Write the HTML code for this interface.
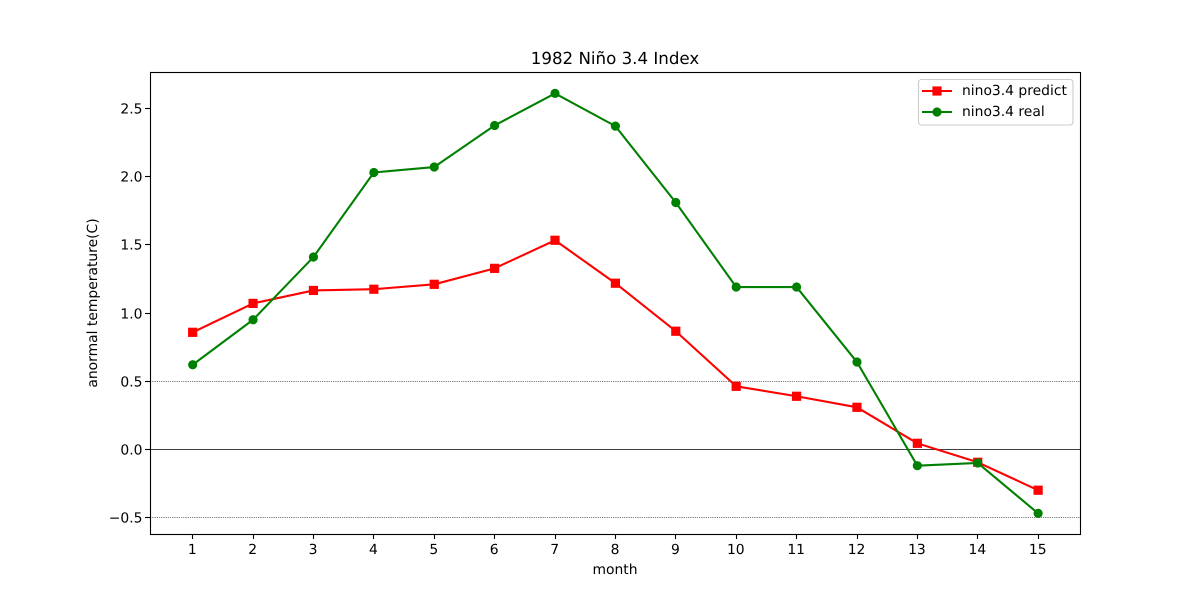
<!DOCTYPE html>
<html>
<head>
<meta charset="utf-8">
<title>1982 Niño 3.4 Index</title>
<style>
html,body{margin:0;padding:0;background:#fff;width:1200px;height:600px;overflow:hidden}
svg{display:block}
text{font-family:"DejaVu Sans","Liberation Sans",sans-serif;fill:#000;text-rendering:geometricPrecision}
</style>
</head>
<body>
<svg id="chart" xmlns="http://www.w3.org/2000/svg" width="1200" height="600" viewBox="0 0 1200 600"></svg>
<script>
const months = [1,2,3,4,5,6,7,8,9,10,11,12,13,14,15];
const predictValues = [0.858,1.07,1.165,1.174,1.21,1.327,1.533,1.218,0.866,0.462,0.389,0.308,0.044,-0.095,-0.30];
const realValues = [0.62,0.95,1.41,2.03,2.07,2.375,2.61,2.37,1.81,1.19,1.19,0.64,-0.12,-0.10,-0.47];
const yTicks = [-0.5,0,0.5,1,1.5,2,2.5];
const xTicks = [1,2,3,4,5,6,7,8,9,10,11,12,13,14,15];
const dottedRefs = [0.5,-0.5];
const solidRefs = [0];

const NS = 'http://www.w3.org/2000/svg';
const svg = document.getElementById('chart');
const L = 150, R = 1080, T = 72, B = 534;
const xMin = 0.3, xMax = 15.7, yMin = -0.624, yMax = 2.764;
function xScale(v){ return L + (v - xMin) / (xMax - xMin) * (R - L); }
function yScale(v){ return B - (v - yMin) / (yMax - yMin) * (B - T); }
function make(tag, attrs, parent){
  const el = document.createElementNS(NS, tag);
  for (const k in attrs) el.setAttribute(k, attrs[k]);
  (parent || svg).appendChild(el);
  return el;
}
function fmt(v){ return (v < 0 ? '\u2212' : '') + Math.abs(v).toFixed(1); }

const plotBg = make('rect', {x:L, y:T, width:R-L, height:B-T, fill:'#fff'});



dottedRefs.forEach(function(v){
  const y = Math.round(yScale(v)) + 0.5;
  const l = make('line', {x1:L, x2:R, y1:y, y2:y, stroke:'#000', 'stroke-width':0.69, 'stroke-dasharray':'0.69 1.14'});
  
  
});
solidRefs.forEach(function(v){
  const y = Math.round(yScale(v)) + 0.5;
  const l = make('line', {x1:L, x2:R, y1:y, y2:y, stroke:'#000', 'stroke-width':0.69});
  
  
});

function drawSeries(values, color, kind, name){
  const g = make('g', {});
  
  
  const pts = values.map(function(v, i){ return (xScale(months[i]) + 0.4).toFixed(2) + ',' + (yScale(v) + 0.4).toFixed(2); }).join(' ');
  make('polyline', {points:pts, fill:'none', stroke:color, 'stroke-width':2.08, 'stroke-linejoin':'round', 'stroke-linecap':'square'}, g);
  values.forEach(function(v, i){
    const cx = xScale(months[i]) + 0.4, cy = yScale(v) + 0.4;
    const m = kind === 'square'
      ? make('rect', {x:cx-4.6, y:cy-4.6, width:9.2, height:9.2, fill:color}, g)
      : make('circle', {cx:cx, cy:cy, r:4.6, fill:color}, g);
    
    
  });
}
drawSeries(predictValues, '#ff0000', 'square', 'series-predict');
drawSeries(realValues, '#008000', 'circle', 'series-real');

xTicks.forEach(function(v){
  const x = Math.round(xScale(v)) + 0.5;
  const t = make('line', {x1:x, x2:x, y1:B, y2:B+5, stroke:'#000', 'stroke-width':1.1});
  
  
  const lb = make('text', {x:xScale(v), y:B+20, 'text-anchor':'middle', 'font-size':'13.89px'});
  lb.textContent = v;
  
  
});
yTicks.forEach(function(v){
  const y = Math.round(yScale(v)) + 0.5;
  const t = make('line', {x1:L-5, x2:L, y1:y, y2:y, stroke:'#000', 'stroke-width':1.1});
  
  
  const lb = make('text', {x:L-7.5, y:y+5, 'text-anchor':'end', 'font-size':'13.89px'});
  lb.textContent = fmt(v);
  
  
});

const frame = make('rect', {x:L+0.5, y:T+0.5, width:R-L, height:B-T, fill:'none', stroke:'#000', 'stroke-width':1.1});



const title = make('text', {x:615, y:64, 'text-anchor':'middle', 'font-size':'16.67px'});
title.textContent = '1982 Ni\u00f1o 3.4 Index';



const xTitle = make('text', {x:615, y:574, 'text-anchor':'middle', 'font-size':'13.89px'});
xTitle.textContent = 'month';



const yTitle = make('text', {x:0, y:0, 'text-anchor':'middle', 'font-size':'13.89px', transform:'translate(97 303) rotate(-90)'});
yTitle.textContent = 'anormal temperature(C)';



const legend = make('g', {});


make('rect', {x:918.5, y:79.5, width:154.5, height:45.5, rx:3, ry:3, fill:'#fff', 'fill-opacity':0.8, stroke:'#ccc', 'stroke-width':1.1}, legend);

const entry1 = make('g', {}, legend);


make('line', {x1:922, x2:952, y1:91, y2:91, stroke:'#ff0000', 'stroke-width':2.08}, entry1);
make('rect', {x:932.4, y:86.4, width:9.2, height:9.2, fill:'#ff0000'}, entry1);
const t1 = make('text', {x:962, y:95, 'font-size':'13.89px'}, entry1);
t1.textContent = 'nino3.4 predict';

const entry2 = make('g', {}, legend);


make('line', {x1:922, x2:952, y1:112, y2:112, stroke:'#008000', 'stroke-width':2.08}, entry2);
make('circle', {cx:937, cy:112, r:4.6, fill:'#008000'}, entry2);
const t2 = make('text', {x:962, y:116, 'font-size':'13.89px'}, entry2);
t2.textContent = 'nino3.4 real';
</script>
</body>
</html>
